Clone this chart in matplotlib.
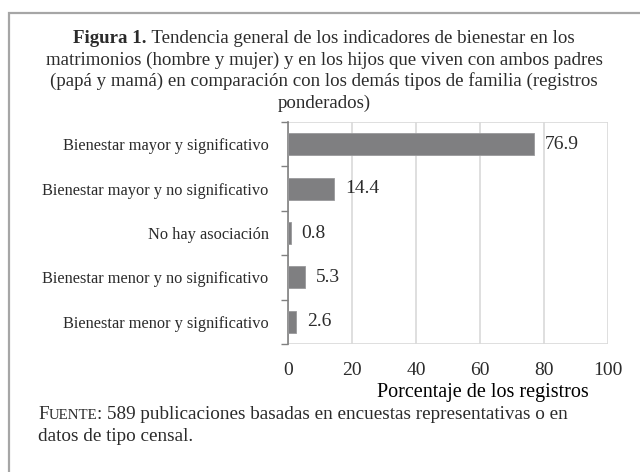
import matplotlib
matplotlib.use("Agg")
import matplotlib.pyplot as plt
from matplotlib.patches import Rectangle

CATEGORIES = [
    "Bienestar mayor y significativo",
    "Bienestar mayor y no significativo",
    "No hay asociación",
    "Bienestar menor y no significativo",
    "Bienestar menor y significativo",
]
VALUES = [76.9, 14.4, 0.8, 5.3, 2.6]
X_TICKS = [0, 20, 40, 60, 80, 100]

TEXT_COLOR = "#2b2b2b"
BAR_COLOR = "#7f7f81"
GRID_COLOR = "#d9d9d9"

plt.rcParams["font.family"] = ["Liberation Serif", "DejaVu Serif"]
plt.rcParams["text.color"] = TEXT_COLOR

fig = plt.figure(figsize=(6.4, 4.72), dpi=100)
W, H = 640, 472

# outer frame (runs off the right and bottom edges)
fig.patches.append(Rectangle((9 / W, -0.05), 1.2, 1 - 13 / H + 0.05,
                             transform=fig.transFigure, fill=False,
                             edgecolor="#a6a6a6", linewidth=1.6))

TITLE_SIZE = 13.6
title_lines = [
    "matrimonios (hombre y mujer) y en los hijos que viven con ambos padres",
    "(papá y mamá) en comparación con los demás tipos de familia (registros",
    "ponderados)",
]
# first line with bold prefix
t_bold = fig.text(0, 0, "Figura 1.", fontsize=TITLE_SIZE, fontweight="bold", va="baseline")
t_rest = fig.text(0, 0, " Tendencia general de los indicadores de bienestar en los",
                  fontsize=TITLE_SIZE, va="baseline")
fig.canvas.draw()
r = fig.canvas.get_renderer()
wb = t_bold.get_window_extent(r).width
wr = t_rest.get_window_extent(r).width
x0 = (W / 2 + 4 - (wb + wr) / 2) / W
y1 = 1 - 43 / H
t_bold.set_position((x0, y1))
t_rest.set_position((x0 + wb / W, y1))
for i, line in enumerate(title_lines):
    fig.text((W / 2 + 4) / W, y1 - (i + 1) * 21.5 / H, line, fontsize=TITLE_SIZE,
             ha="center", va="baseline")

ax = fig.add_axes([288 / W, 1 - 344 / H, 320 / W, 222 / H])
y_pos = list(range(len(CATEGORIES)))
ax.barh(y_pos, VALUES, height=0.5, color=BAR_COLOR, edgecolor="#9a9a9c", linewidth=0.6, zorder=3)
for y, v in zip(y_pos, VALUES):
    ax.annotate(f"{v}", xy=(v, y), xytext=(8, 0), textcoords="offset points",
                va="center", ha="left", fontsize=14)

ax.set_xlim(0, 100)
ax.set_ylim(len(CATEGORIES) - 0.5, -0.5)
ax.set_xticks(X_TICKS)
ax.set_xticklabels([str(t) for t in X_TICKS], fontsize=14)
ax.tick_params(axis="x", length=0, pad=13, colors=TEXT_COLOR)
ax.set_yticks(y_pos)
ax.set_yticklabels(CATEGORIES, fontsize=11.8)
ax.tick_params(axis="y", length=0, pad=14, colors=TEXT_COLOR)
# tick marks at category boundaries
ax.set_yticks([i - 0.5 for i in range(len(CATEGORIES) + 1)], minor=True)
ax.tick_params(axis="y", which="minor", length=5, color="#808080", width=1)

ax.grid(axis="x", color=GRID_COLOR, linewidth=1.2, zorder=0)
for side in ["top", "right", "bottom"]:
    ax.spines[side].set_visible(False)
ax.axhline(len(CATEGORIES) - 0.5, color=GRID_COLOR, linewidth=1.2, zorder=1)
ax.axhline(-0.5, color=GRID_COLOR, linewidth=1.2, zorder=1)
ax.spines["left"].set_color("#808080")
ax.spines["left"].set_linewidth(1.2)

ax.set_xlabel("Porcentaje de los registros", fontsize=14.5)
ax.xaxis.set_label_coords(0.61, -0.175)

# source note with small caps "Fuente"
NOTE_SIZE = 13.8
xf = 38
yf = 1 - 419 / H
f1 = fig.text(xf / W, yf, "F", fontsize=NOTE_SIZE, va="baseline")
fig.canvas.draw()
xf += f1.get_window_extent(r).width
f2 = fig.text(xf / W, yf, "UENTE", fontsize=NOTE_SIZE * 0.78, va="baseline")
fig.canvas.draw()
xf += f2.get_window_extent(r).width
fig.text(xf / W, yf, ": 589 publicaciones basadas en encuestas representativas o en",
         fontsize=NOTE_SIZE, va="baseline")
fig.text(38 / W, yf - 22 / H, "datos de tipo censal.", fontsize=NOTE_SIZE, va="baseline")

fig.savefig("out.png", dpi=100)
